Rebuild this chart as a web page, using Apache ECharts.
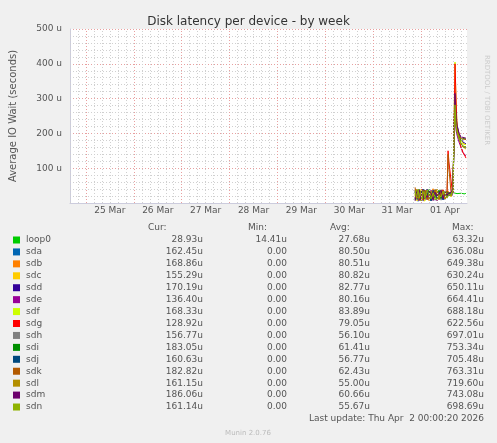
<!DOCTYPE html>
<html>
<head>
<meta charset="utf-8">
<script src="https://cdn.jsdelivr.net/npm/echarts@6/dist/echarts.min.js"></script>
<style>
html,body{margin:0;padding:0;background:#f0f0f0;}
#chart{width:497px;height:443px;}
</style>
</head>
<body>
<div id="chart"></div>
<script>
// hours relative to 01 Apr 00:00
var hours = [-3,-2.5,-2,-1.5,-1,-0.5,0,0.5,1,1.5,2,3,4,5,6,7,8,9,10,11,12,13,
	13.5,14,15,15.5,16,16.5,17,17.5,18,19,20,21,22,22.5];
var names = ['loop0','sda','sdb','sdc','sdd','sde','sdf','sdg','sdh','sdi','sdj','sdk','sdl','sdm','sdn'];
var colors = ['#00cc00','#0066b3','#ff8000','#ffcc00','#330099','#990099','#ccff00','#ff0000',
	'#808080','#008f00','#00487d','#b35a00','#b38f00','#6b006b','#8fb300'];
var loop0 = [18,22,15,25,20,17,24,19,16,22,18,21,15,20,23,19,17,22,20,18,21,24, 26,27,28,30,27,29,28,26,27,30,28,27,26,29];
var sda = [35,10,28,5,40,18,30,8,25,36,12,22,30,6,27,38,14,20,33,9,26,18, 25,22,20,28,35,190,270,220,205,185,170,162,160,162];
var sdb = [28,40,12,30,8,25,35,15,38,10,24,32,7,29,41,16,22,35,11,30,20,15, 35,28,25,30,40,210,300,240,215,190,175,170,168,169];
var sdc = [20,32,6,38,14,27,10,33,19,5,36,23,15,31,9,25,37,12,28,18,34,22, 22,30,18,25,38,195,280,225,210,188,168,160,155,155];
var sdd = [12,25,38,9,30,16,36,22,7,29,18,40,11,26,33,8,24,31,15,37,10,28, 28,20,24,32,42,230,320,250,225,200,185,175,172,170];
var sde = [38,14,26,33,7,21,28,12,35,20,30,9,24,37,13,29,6,34,22,16,31,25, 20,26,30,22,36,185,260,210,195,175,160,145,138,136];
var sdf = [26,8,34,17,29,39,11,27,15,32,7,25,36,19,28,10,33,21,38,13,24,30, 30,25,20,30,40,250,405,290,220,195,180,170,168,168];
var sdg = [15,30,20,36,12,28,18,40,9,24,33,14,27,8,35,21,30,16,25,38,12,27, 150,115,110,40,30,220,400,300,220,190,160,145,135,129];
var sdh = [32,18,9,27,36,13,24,30,19,38,10,28,17,33,22,36,11,26,8,29,35,20, 26,24,28,22,38,200,285,230,210,185,170,162,158,157];
var sdi = [9,36,24,14,31,22,7,35,28,12,26,19,39,10,30,15,27,37,13,23,18,33, 24,30,22,26,40,205,290,235,212,192,180,186,184,183];
var sdj = [30,21,35,11,25,8,33,16,40,23,14,30,20,6,37,27,12,32,24,9,28,16, 30,22,26,28,35,198,275,228,206,186,170,162,161,161];
var sdk = [45,12,30,22,8,34,26,14,31,18,37,10,29,24,16,39,20,9,33,27,14,36, 140,95,30,26,38,215,310,245,218,196,184,182,183,183];
var sdl = [22,38,14,29,19,33,6,25,37,13,30,22,8,35,18,26,40,15,21,32,11,29, 25,28,20,30,36,192,270,222,204,184,168,162,161,161];
var sdm = [6,27,33,18,38,10,29,21,13,36,24,16,34,28,7,31,19,25,38,12,30,22, 28,24,30,26,44,225,315,248,222,200,190,188,187,186];
var sdn = [36,16,22,40,13,30,19,9,26,34,15,38,21,12,29,33,8,23,17,35,25,14, 22,26,24,28,38,200,282,226,208,188,172,164,161,161];
var values = [loop0,sda,sdb,sdc,sdd,sde,sdf,sdg,sdh,sdi,sdj,sdk,sdl,sdm,sdn];

// legend table
var cur = ['28.93u','162.45u','168.86u','155.29u','170.19u','136.40u','168.33u','128.92u','156.77u','183.05u','160.63u','182.82u','161.15u','186.06u','161.14u'];
var mins = ['14.41u','0.00','0.00','0.00','0.00','0.00','0.00','0.00','0.00','0.00','0.00','0.00','0.00','0.00','0.00'];
var avgs = ['27.68u','80.50u','80.51u','80.82u','82.77u','80.16u','83.89u','79.05u','56.10u','61.41u','56.77u','62.43u','55.00u','60.66u','55.67u'];
var maxs = ['63.32u','636.08u','649.38u','630.24u','650.11u','664.41u','688.18u','622.56u','697.01u','753.34u','705.48u','763.31u','719.60u','743.08u','698.69u'];
var days = ['25 Mar','26 Mar','27 Mar','28 Mar','29 Mar','30 Mar','31 Mar','01 Apr'];

var apr1 = Date.UTC(2026,3,1);
var H = 3600*1000;
var xMin = apr1-7*24*H-8*H, xMax = apr1+23*H;

// vertical grid every 4 hours, red at midnight
var vlines = [];
for (var t = xMin; t < xMax; t += 4*H) {
	var midnight = ((t-apr1)/H) % 24 === 0;
	vlines.push({xAxis:t, lineStyle:{color:midnight?'#e8a0a0':'#d0d0d0', type:[1,2], width:1}});
}

var series = names.map(function(n,i){
	return {
		name:n,
		type:'line',
		showSymbol:false,
		animation:false,
		z:3,
		lineStyle:{width:1,color:colors[i]},
		itemStyle:{color:colors[i]},
		data:hours.map(function(h,j){return [apr1+h*H, values[i][j]];})
	};
});
series.push({
	type:'line',data:[],silent:true,z:1,
	markLine:{silent:true,symbol:'none',animation:false,label:{show:false},data:vlines}
});

var font = 'DejaVu Sans';
var graphic = [];
function txt(x,y,s,align,color,size){
	graphic.push({type:'text',x:x,y:y,style:{text:s,fill:color||'#555',font:(size||9)+'px "'+font+'"',textAlign:align||'left',textVerticalAlign:'middle'}});
}
txt(148,228,'Cur:');
txt(248,228,'Min:');
txt(330,228,'Avg:');
txt(452,228,'Max:');
names.forEach(function(n,i){
	var y = 240+i*11.93;
	graphic.push({type:'rect',shape:{x:13,y:y-3.5,width:7,height:7},style:{fill:colors[i]}});
	txt(26,y,n);
	txt(203,y,cur[i],'right');
	txt(287,y,mins[i],'right');
	txt(370,y,avgs[i],'right');
	txt(484,y,maxs[i],'right');
});
txt(484,419,'Last update: Thu Apr  2 00:00:20 2026','right');
txt(248,433,'Munin 2.0.76','center','#bbb',7);
graphic.push({type:'text',x:487,y:100,rotation:-Math.PI/2,style:{text:'RRDTOOL / TOBI OETIKER',fill:'#ccc',font:'7px "'+font+'"',textAlign:'center',textVerticalAlign:'middle'}});

var chart = echarts.init(document.getElementById('chart'));
var option = {
	backgroundColor:'#f0f0f0',
	animation:false,
	title:{
		text:'Disk latency per device - by week',
		left:'center',
		top:11,
		textStyle:{fontFamily:font,fontSize:12,fontWeight:'normal',color:'#333'}
	},
	grid:{left:67,right:30,top:29,bottom:240,backgroundColor:'#fff',show:true,borderWidth:0},
	xAxis:{
		type:'time',
		min:xMin,
		max:xMax,
		axisLine:{lineStyle:{color:'#ccd',width:1}},
		axisTick:{show:false},
		axisLabel:{show:false},
		splitLine:{show:false}
	},
	yAxis:{
		type:'value',
		min:0,max:500,interval:100,
		name:'Average IO Wait (seconds)',
		nameLocation:'middle',
		nameGap:52,
		nameTextStyle:{fontFamily:font,fontSize:10,color:'#555'},
		axisLine:{show:true,lineStyle:{color:'#ccd'}},
		axisTick:{show:false},
		axisLabel:{fontFamily:font,fontSize:9,color:'#555',formatter:function(v){return v===0?'':v+' u';}},
		splitLine:{lineStyle:{color:'#e8a0a0',type:[1,2]}},
		minorTick:{show:false,splitNumber:5},
		minorSplitLine:{show:true,lineStyle:{color:'#d0d0d0',type:[1,2]}}
	},
	series:series,
	graphic:graphic
};
chart.setOption(option);
// day labels centered at noon
days.forEach(function(d,i){
	var p = chart.convertToPixel({gridIndex:0},[apr1-(7-i)*24*H+12*H,0]);
	graphic.push({type:'text',x:p[0],y:211,style:{text:d,fill:'#555',font:'9px "'+font+'"',textAlign:'center',textVerticalAlign:'middle'}});
});
chart.setOption({graphic:graphic});
</script>
</body>
</html>
